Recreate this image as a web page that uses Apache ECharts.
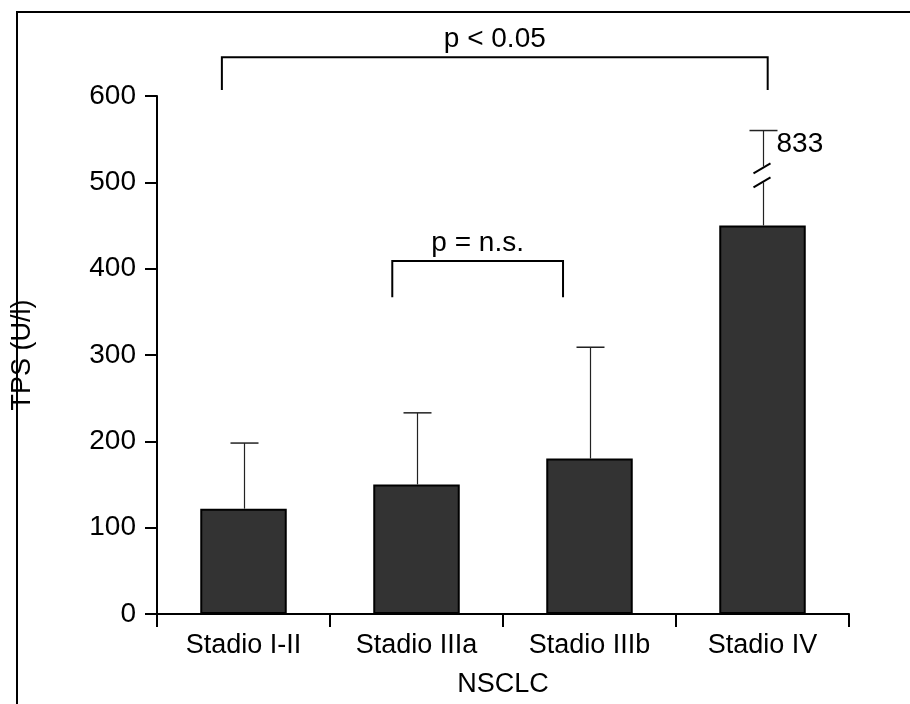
<!DOCTYPE html>
<html><head><meta charset="utf-8">
<script src="https://cdn.jsdelivr.net/npm/echarts@6/dist/echarts.min.js"></script>
<style>html,body{margin:0;padding:0;background:#fff}#c{width:910px;height:704px}</style>
</head><body><div id="c"></div>
<script>
// ---- data ----
const categories = ['Stadio I-II', 'Stadio IIIa', 'Stadio IIIb', 'Stadio IV'];
const means = [122, 150, 180, 450];
const errorTops = [198, 233, 309, 560];      // plotted end of error bar (IV drawn on broken scale)
const errorTopLabels = ['', '', '', '833'];  // true value printed next to broken bar
const breakAt = [null, null, null, 508];     // where the axis break marks sit
const yMin = 0, yMax = 600, yStep = 100;
const bracketLeft = [0, 1];
const bracketRight = [3, 2];
const bracketLeftShift = [-0.125, -0.14];
const bracketRightShift = [0.03, -0.153];
const bracketTop = [645, 409];
const bracketFoot = [607, 367];
const bracketText = ['p < 0.05', 'p = n.s.'];

const FONT = 'Liberation Sans, Arial, sans-serif';
const chart = echarts.init(document.getElementById('c'));

const errData = categories.map((c, i) => [i, means[i], errorTops[i], breakAt[i] == null ? 0 : breakAt[i]]);
const brData = bracketLeft.map((l, k) => [l, bracketTop[k], bracketRight[k], bracketFoot[k], bracketLeftShift[k], bracketRightShift[k]]);

function ln(x1, y1, x2, y2, w, color) {
  return { type: 'line', shape: { x1, y1, x2, y2 }, style: { stroke: color || '#000', lineWidth: w } };
}

chart.setOption({
  animation: false,
  grid: { left: 157, right: 61, top: 96, bottom: 90, containLabel: false },
  xAxis: {
    type: 'category', data: categories,
    axisLine: { lineStyle: { color: '#000', width: 2 } },
    axisTick: { show: true, length: 13, lineStyle: { color: '#000', width: 2 } },
    axisLabel: { color: '#000', fontSize: 27, fontFamily: FONT, margin: 18 },
    name: 'NSCLC', nameLocation: 'middle', nameGap: 57,
    nameTextStyle: { color: '#000', fontSize: 27, fontFamily: FONT }
  },
  yAxis: {
    type: 'value', min: yMin, max: yMax, interval: yStep,
    splitLine: { show: false },
    axisLine: { show: true, lineStyle: { color: '#000', width: 2 } },
    axisTick: { show: true, length: 12, lineStyle: { color: '#000', width: 2 } },
    axisLabel: { color: '#000', fontSize: 28, fontFamily: FONT, margin: 21 },
    name: 'TPS (U/l)', nameLocation: 'middle', nameGap: 121, nameRotate: 90,
    nameTextStyle: { color: '#000', fontSize: 27, fontFamily: FONT }
  },
  graphic: [
    { type: 'line', shape: { x1: 17, y1: 12, x2: 17, y2: 704 }, style: { stroke: '#000', lineWidth: 2 } },
    { type: 'line', shape: { x1: 16, y1: 12, x2: 910, y2: 12 }, style: { stroke: '#000', lineWidth: 2 } }
  ],
  series: [
    {
      type: 'bar', data: means, barWidth: '50%',
      itemStyle: { color: '#333333', borderColor: '#000', borderWidth: 2 },
      z: 2
    },
    {
      type: 'custom', data: errData, encode: { x: 0, y: 2 }, z: 3, clip: false,
      renderItem(params, api) {
        const i = api.value(0);
        const base = api.coord([i, api.value(1)]);
        const top = api.coord([i, api.value(2)]);
        const x = base[0] + 1;
        const half = 14;
        const brk = api.value(3);
        const ch = [];
        if (brk) {
          const b = api.coord([i, brk])[1];
          ch.push(ln(x, base[1], x, b + 7, 1.2, '#222'));
          ch.push(ln(x, b - 9, x, top[1], 1.2, '#222'));
          ch.push(ln(x - 10, b - 2, x + 7, b - 12, 2));
          ch.push(ln(x - 10, b + 12, x + 7, b + 2, 2));
        } else {
          ch.push(ln(x, base[1], x, top[1], 1.2, '#222'));
        }
        ch.push(ln(x - half, top[1], x + half, top[1], 1.5, '#222'));
        const lab = errorTopLabels[params.dataIndex];
        if (lab) {
          ch.push({ type: 'text', x: x + half - 1, y: top[1], style: { text: lab, fill: '#000', fontSize: 28, fontFamily: FONT, align: 'left', verticalAlign: 'top' } });
        }
        return { type: 'group', children: ch };
      }
    },
    {
      type: 'custom', data: brData, encode: { x: 0, y: 1 }, z: 3, clip: false,
      renderItem(params, api) {
        const bw = api.size([1, 0])[0];
        const xl = api.coord([api.value(0), api.value(1)])[0] + api.value(4) * bw;
        const xr = api.coord([api.value(2), api.value(1)])[0] + api.value(5) * bw;
        const yt = api.coord([0, api.value(1)])[1];
        const yf = api.coord([0, api.value(3)])[1];
        return {
          type: 'group', children: [
            { type: 'polyline', shape: { points: [[xl, yf], [xl, yt], [xr, yt], [xr, yf]] }, style: { stroke: '#000', lineWidth: 2, fill: null } },
            { type: 'text', x: (xl + xr) / 2, y: yt - 18, style: { text: bracketText[params.dataIndex], fill: '#000', fontSize: 28, fontFamily: FONT, align: 'center', verticalAlign: 'middle' } }
          ]
        };
      }
    }
  ]
});
</script></body></html>
